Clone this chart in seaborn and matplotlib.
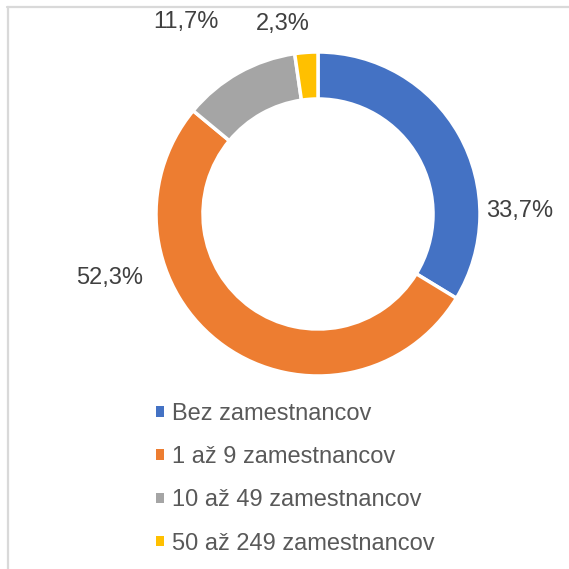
import matplotlib
matplotlib.use("Agg")
import matplotlib.pyplot as plt
from matplotlib.lines import Line2D
from matplotlib.patches import Patch
import seaborn as sns

sns.set_theme(style="white")
plt.rcParams['font.family'] = ['Liberation Sans', 'DejaVu Sans']

categories = ["Bez zamestnancov", "1 až 9 zamestnancov",
              "10 až 49 zamestnancov", "50 až 249 zamestnancov"]
shares = [33.7, 52.3, 11.7, 2.3]
share_labels = ["33,7%", "52,3%", "11,7%", "2,3%"]
colors = ["#4472C4", "#ED7D31", "#A5A5A5", "#FFC000"]

W = 569
fig = plt.figure(figsize=(W / 100, W / 100), dpi=100)
fig.patch.set_facecolor("white")

# chart area border (clipped at right and bottom)
fig.add_artist(Line2D([7 / W, 1], [1 - 6.5 / W, 1 - 6.5 / W], color="#D9D9D9", lw=1.6))
fig.add_artist(Line2D([8 / W, 8 / W], [0, 1 - 6.5 / W], color="#D9D9D9", lw=1.6))

# donut: centre (318, 214) px, outer radius 162 px
cx, cy, r = 318, 214, 162
ax = fig.add_axes([(cx - r) / W, 1 - (cy + r) / W, 2 * r / W, 2 * r / W])
wedges, _ = ax.pie(shares, colors=colors, startangle=90, counterclock=False,
                   radius=1, wedgeprops=dict(width=0.29, edgecolor="white", linewidth=2.5))
ax.set_xlim(-1, 1)
ax.set_ylim(-1, 1)
ax.set_aspect("equal")
ax.axis("off")

# data labels placed outside the ring like Excel
label_pos = [(1.247, 0.02), (-1.284, -0.392), (-0.815, 1.186), (-0.216, 1.173)]
for txt, (x, y) in zip(share_labels, label_pos):
    ax.text(x, y, txt, ha="center", va="center", fontsize=17, color="#404040", clip_on=False)

handles = [Patch(facecolor=c, edgecolor="none") for c in colors]
leg = fig.legend(handles, categories, loc="upper left",
                 bbox_to_anchor=(147 / W, 1 - 393.5 / W), frameon=False,
                 fontsize=17, handlelength=0.3, handleheight=0.3,
                 handletextpad=0.34, labelspacing=0.9, borderaxespad=0)
for t in leg.get_texts():
    t.set_color("#595959")

fig.savefig("out.png", dpi=100, facecolor="white")
